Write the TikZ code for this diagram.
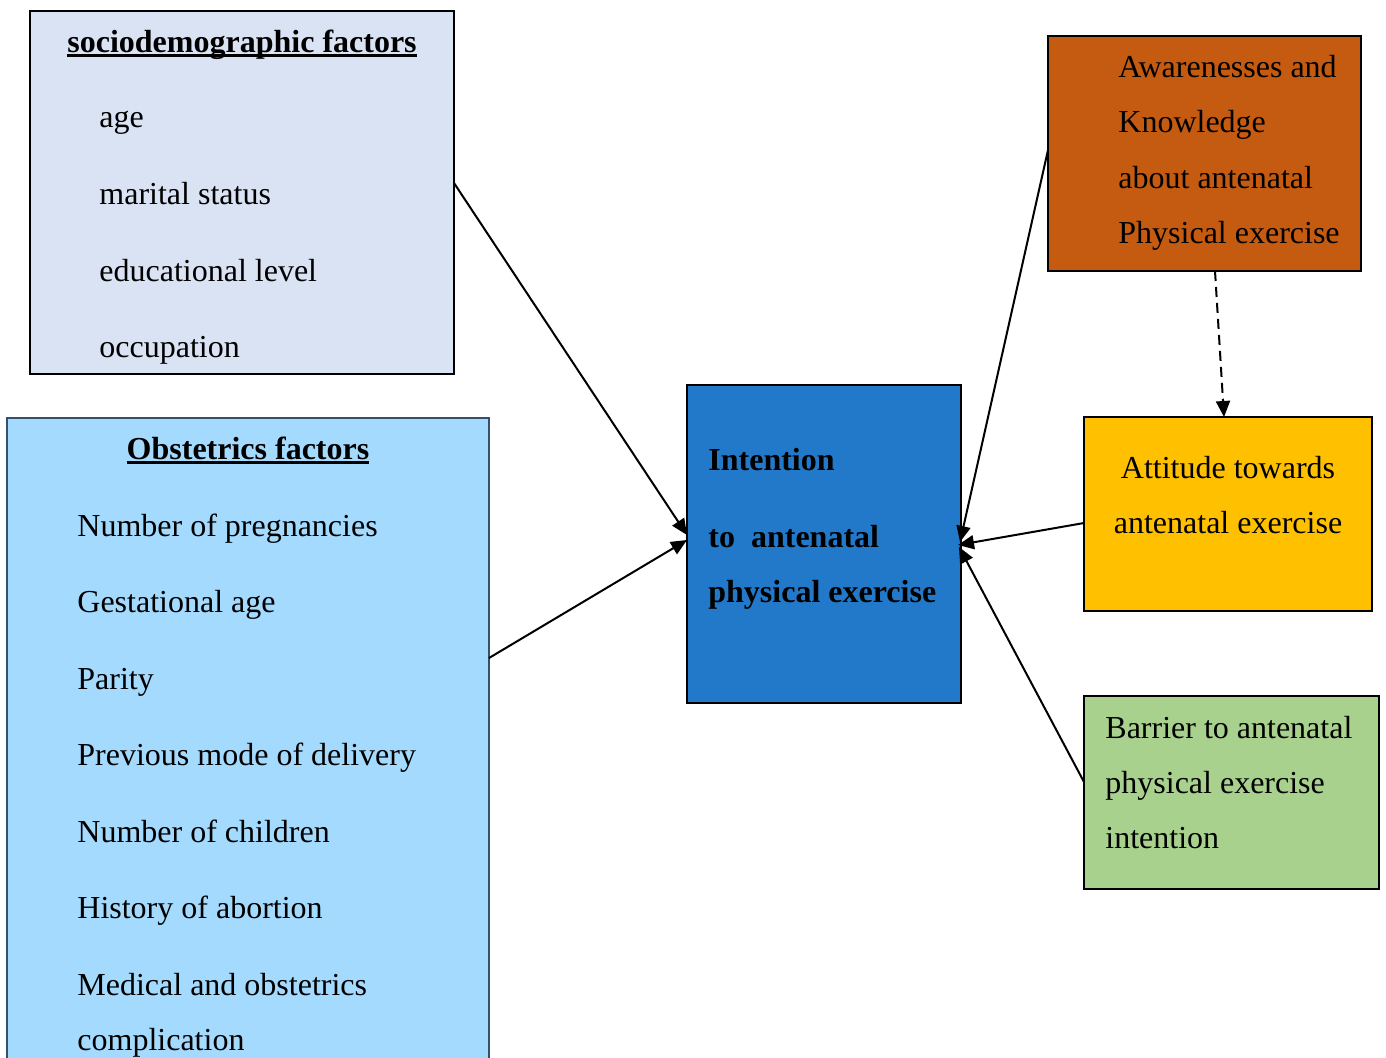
\documentclass[tikz,border=0pt]{standalone}
\usepackage{fontspec}
\setmainfont{Liberation Serif}
\usetikzlibrary{arrows.meta}
\definecolor{socioC}{HTML}{DAE3F3}
\definecolor{obstC}{HTML}{A4DAFD}
\definecolor{obstB}{HTML}{34506F}
\definecolor{intC}{HTML}{2279C9}
\definecolor{awC}{HTML}{C55A11}
\definecolor{attC}{HTML}{FFC000}
\definecolor{barC}{HTML}{A9D18E}
\newcommand{\myul}[1]{\setbox0\hbox{#1}\rlap{\rule[-2.4pt]{\wd0}{1.3pt}}\box0}
\begin{document}
\begin{tikzpicture}[x=0.5pt,y=-0.5pt,
  box/.style={draw, line width=1pt, anchor=north west, inner sep=0pt, outer sep=0pt},
  txt/.style={anchor=base west, inner sep=0pt, font=\fontsize{16}{19}\selectfont},
  ctxt/.style={anchor=base, inner sep=0pt, font=\fontsize{16}{19}\selectfont},
  arr/.style={line width=1pt, -{Triangle[length=8pt,width=7pt]}},
  darr/.style={line width=1pt, dash pattern=on 5pt off 3pt, -{Triangle[length=8pt,width=7pt]}}]
\clip (0,0) rectangle (1386,1057);
\fill[white] (0,0) rectangle (1386,1057);
% boxes
\node[box, fill=socioC, minimum width=212pt, minimum height=181.5pt] (socio) at (30,11) {};
\node[box, fill=obstC, draw=obstB, line width=0.8pt, minimum width=241pt, minimum height=330pt] (obst) at (7,418) {};
\node[box, fill=intC, minimum width=137pt, minimum height=159pt] (inten) at (687,385) {};
\node[box, fill=awC, minimum width=156.5pt, minimum height=117.5pt] (aware) at (1048,36) {};
\node[box, fill=attC, minimum width=144pt, minimum height=97pt] (att) at (1084,417) {};
\node[box, fill=barC, minimum width=147.5pt, minimum height=96.5pt] (bar) at (1084,696) {};
% sociodemographic text
\node[txt] (s0) at (67,52) {\bfseries\myul{sociodemographic factors}};
\node[txt] (s1) at (99,127) {age};
\node[txt] (s2) at (99,204) {marital status};
\node[txt] (s3) at (99,281) {educational level};
\node[txt] (s4) at (99,357) {occupation};
% obstetrics text
\node[ctxt] (o0) at (248,459) {\bfseries\myul{Obstetrics factors}};
\node[txt] (o1) at (77,536) {Number of pregnancies};
\node[txt] (o2) at (77,612) {Gestational age};
\node[txt] (o3) at (77,689) {Parity};
\node[txt] (o4) at (77,765) {Previous mode of delivery};
\node[txt] (o5) at (77,842) {Number of children};
\node[txt] (o6) at (77,918) {History of abortion};
\node[txt] (o7) at (77,995) {Medical and obstetrics};
\node[txt] (o8) at (77,1050) {complication};
% intention text
\node[txt] (i1) at (708,470) {\bfseries Intention};
\node[txt] (i2) at (708,547) {\bfseries to\ \ antenatal};
\node[txt] (i3) at (708,602) {\bfseries physical exercise};
% awareness text
\node[txt] (a1) at (1118,77) {Awarenesses and};
\node[txt] (a2) at (1118,132) {Knowledge};
\node[txt] (a3) at (1118,188) {about antenatal};
\node[txt] (a4) at (1118,243) {Physical exercise};
% attitude text
\node[ctxt] (t1) at (1228,478) {Attitude towards};
\node[ctxt] (t2) at (1228,533) {antenatal exercise};
% barrier text
\node[txt] (b1) at (1105,738) {Barrier to antenatal};
\node[txt] (b2) at (1105,793) {physical exercise};
\node[txt] (b3) at (1105,848) {intention};
% ports
\coordinate (p1) at (454,183);  \coordinate (q1) at (687,535);
\coordinate (p2) at (489,658);  \coordinate (q2) at (687,540);
\coordinate (p3) at (1048,150); \coordinate (q3) at (960,542);
\coordinate (p4) at (1084,523); \coordinate (q4) at (958,545);
\coordinate (p5) at (1084,782); \coordinate (q5) at (959,547);
\coordinate (p6) at (1215,271); \coordinate (q6) at (1224,417);
% connectors
\draw[arr] (p1) -- (q1);
\draw[arr] (p2) -- (q2);
\draw[arr] (p3) -- (q3);
\draw[arr] (p4) -- (q4);
\draw[arr] (p5) -- (q5);
\draw[darr] (p6) -- (q6);
\end{tikzpicture}
\end{document}
